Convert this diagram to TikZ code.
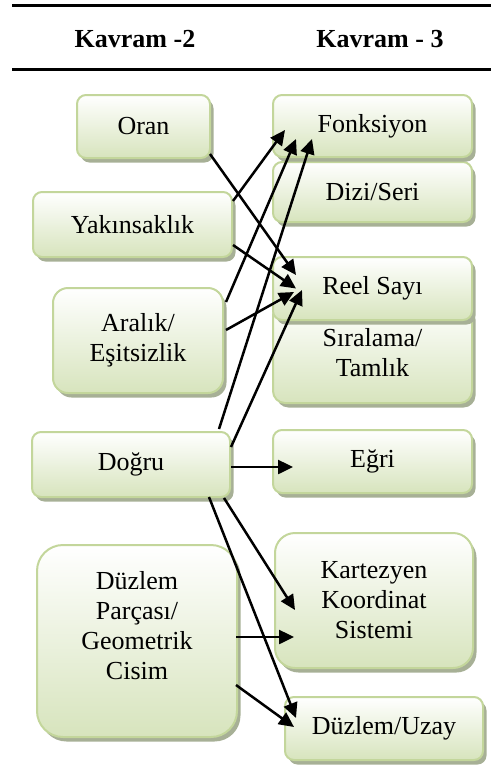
\documentclass[tikz,border=0pt]{standalone}
\usepackage{fontspec}
\setmainfont{Liberation Serif}
\usetikzlibrary{arrows.meta,shadows}

\definecolor{kborder}{HTML}{C3D69B}
\definecolor{kfill}{HTML}{D7E4BD}
\definecolor{kshadow}{HTML}{A7B096}

\tikzset{
  kbox/.style={draw=kborder, line width=2pt, rounded corners=9pt,
    top color=white, bottom color=kfill, inner sep=0pt, align=center,
    font=\fontsize{26}{30}\selectfont,
    drop shadow={shadow xshift=3.5pt, shadow yshift=-4.5pt, fill=kshadow, opacity=1}},
  khead/.style={font=\fontsize{26}{30}\selectfont\bfseries},
  arr/.style={line width=2.5pt, -{Triangle[length=15pt,width=14pt]}}
}

\begin{document}
\begin{tikzpicture}[x=1pt,y=-1pt]
  \useasboundingbox (0,0) rectangle (491,780);
  % header rules
  \draw [line width=3pt] (12,5) -- (491,5);
  \draw [line width=3pt] (12,69) -- (491,69);
  \node [khead] (hdrL) at (135,39) {Kavram -2};
  \node [khead] (hdrR) at (380,39) {Kavram - 3};

  % left column
  \node [kbox, minimum width=133pt, minimum height=63pt] (oran) at (143.5,126.5) {Oran};
  \node [kbox, minimum width=199pt, minimum height=65pt] (yakin) at (132.5,224.5) {Yakınsaklık};
  \node [kbox, minimum width=170pt, minimum height=105pt, rounded corners=15pt] (aralik) at (138,340.5) {Aralık/\\Eşitsizlik};
  \node [kbox, minimum width=198pt, minimum height=65pt] (dogru) at (131,464.5) {Doğru};
  \node [kbox, minimum width=200pt, minimum height=192pt, rounded corners=26pt] (parca) at (137,641) {Düzlem\\Parçası/\\Geometrik\\Cisim\\[2pt]\mbox{}};

  % right column
  \node [kbox, minimum width=199pt, minimum height=60pt] (dizi) at (372.5,192) {Dizi/Seri};
  \node [kbox, minimum width=199pt, minimum height=62pt] (fonk) at (372.5,126) {Fonksiyon};
  \node [kbox, minimum width=199pt, minimum height=100pt, rounded corners=12pt] (sira) at (372.5,353) {Sıralama/\\Tamlık};
  \node [kbox, minimum width=199pt, minimum height=63pt] (reel) at (372.5,288.5) {Reel Sayı};
  \node [kbox, minimum width=199pt, minimum height=63pt] (egri) at (372.5,461.5) {Eğri};
  \node [kbox, minimum width=198pt, minimum height=135pt, rounded corners=20pt] (kart) at (374,600.5) {Kartezyen\\Koordinat\\Sistemi};
  \node [kbox, minimum width=198pt, minimum height=63pt] (uzay) at (384,728.5) {Düzlem/Uzay};

  % connections
  \draw [arr] ([shift={(-1,-5)}]oran.south east) -- ([shift={(24,-13.5)}]reel.west);
  \draw [arr] ([shift={(0,-23.5)}]yakin.east) -- ([shift={(13,4)}]fonk.west);
  \draw [arr] ([shift={(0,20.5)}]yakin.east) -- ([shift={(24,0)}]reel.west);
  \draw [arr] ([shift={(2,-38.5)}]aralik.east) -- ([shift={(24,13)}]fonk.west);
  \draw [arr] ([shift={(2,-10.5)}]aralik.east) -- ([shift={(22,3.5)}]reel.west);
  \draw [arr] ([shift={(-12,-2)}]dogru.north east) -- ([shift={(40,13)}]fonk.west);
  \draw [arr] ([shift={(0,-17.5)}]dogru.east) -- ([shift={(30,1.5)}]reel.west);
  \draw [arr] ([shift={(0,2.5)}]dogru.east) -- ([shift={(21,5.5)}]egri.west);
  \draw [arr] ([shift={(-7,0)}]dogru.south east) -- ([shift={(21,9.5)}]kart.west);
  \draw [arr] ([shift={(-22,-1)}]dogru.south east) -- ([shift={(12,-10.5)}]uzay.west);
  \draw [arr] ([shift={(-2,-4)}]parca.east) -- ([shift={(20,36.5)}]kart.west);
  \draw [arr] ([shift={(-2,44)}]parca.east) -- ([shift={(10,-1.5)}]uzay.west);
\end{tikzpicture}
\end{document}
